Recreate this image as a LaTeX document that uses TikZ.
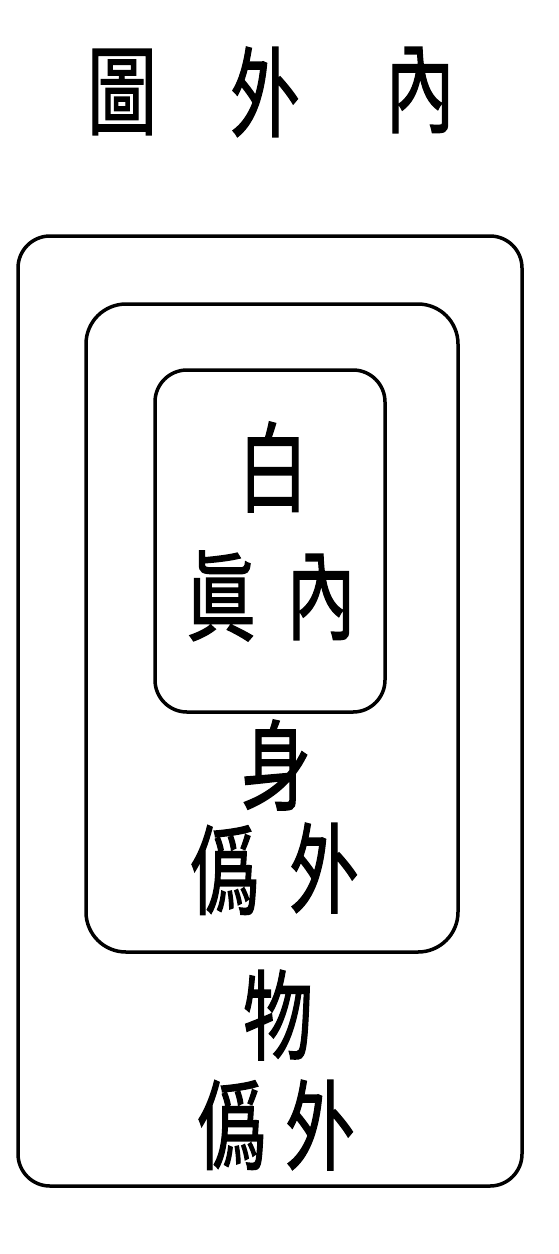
\documentclass[tikz,border=0pt]{standalone}
\usepackage{fontspec}
\usepackage{tikz}
\newfontfamily\cjk[FakeBold=1.6]{Noto Sans CJK TC}
\newcommand{\glyph}[1]{\scalebox{0.82}[1.15]{#1}}
\tikzset{
    zi/.style={font=\cjk\fontsize{85}{85}\selectfont, inner sep=0pt},
    frame/.style={line width=3.5pt, rounded corners=32pt}
}

\begin{document}
\begin{tikzpicture}[x=1pt, y=-1pt]
    \useasboundingbox (0,0) rectangle (558,1254);
    \def\outerFrame{(18,236) rectangle (522,1186)}
    \def\middleFrame{(86,304) rectangle (458,952)}
    \def\innerFrame{(155,370) rectangle (385,712)}
    \draw [frame] \outerFrame;
    \draw [frame, rounded corners=40pt] \middleFrame;
    \draw [frame] \innerFrame;

    % title
    \node [zi] (tu)    at (122,92) {\glyph{圖}};
    \node [zi] (wai)   at (265,92) {\glyph{外}};
    \node [zi] (nei)   at (420,90) {\glyph{內}};

    % inner frame
    \node [zi] (bai)   at (273,467) {\glyph{白}};
    \node [zi] (zhen)  at (221,596) {\glyph{眞}};
    \node [zi] (neiA)  at (321,597) {\glyph{內}};

    % middle frame
    \node [zi] (shen)  at (276,765) {\glyph{身}};
    \node [zi] (weiA)  at (225,870) {\glyph{僞}};
    \node [zi] (waiA)  at (324,868) {\glyph{外}};

    % outer frame
    \node [zi] (wu)    at (278,1015) {\glyph{物}};
    \node [zi] (weiB)  at (232,1125) {\glyph{僞}};
    \node [zi] (waiB)  at (320,1125) {\glyph{外}};
\end{tikzpicture}
\end{document}
